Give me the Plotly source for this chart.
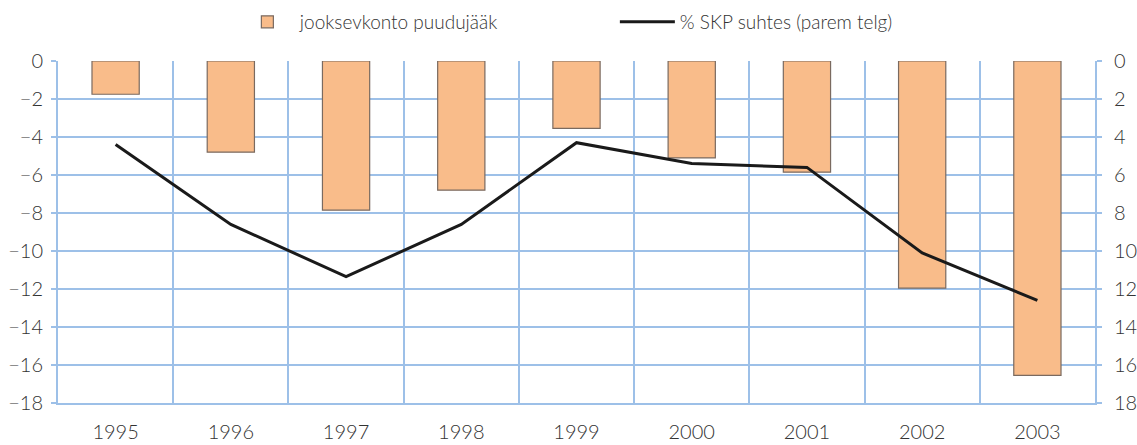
import plotly.graph_objects as go

years = ["1995", "1996", "1997", "1998", "1999", "2000", "2001", "2002", "2003"]
deficit = [-1.75, -4.8, -7.85, -6.8, -3.55, -5.1, -5.85, -11.95, -16.55]
pct_gdp = [4.4, 8.6, 11.35, 8.6, 4.3, 5.4, 5.6, 10.1, 12.6]

grid = "#9DC0E8"
font = dict(family="Lato, Open Sans, sans-serif", size=20, color="#333333", weight=300)

fig = go.Figure()
fig.add_trace(go.Bar(
    x=years, y=deficit, name="jooksevkonto puudujääk",
    marker=dict(color="#F9BC8A", line=dict(color="#7A6A60", width=1.2)),
    width=0.41,
))
fig.add_trace(go.Scatter(
    x=years, y=pct_gdp, name="% SKP suhtes (parem telg)",
    mode="lines", line=dict(color="#1A1A1A", width=3), yaxis="y2",
))

fig.update_layout(
    width=1137, height=445,
    margin=dict(l=58, r=42, t=61, b=42, autoexpand=False),
    plot_bgcolor="white", paper_bgcolor="white",
    font=font,
    showlegend=True,
    legend=dict(orientation="h", x=0.537, xanchor="center", y=1.114, yanchor="middle",
                font=dict(size=19, color="#333333", weight=300), itemwidth=55,
                entrywidth=310, traceorder="normal"),
    xaxis=dict(type="category", tickson="boundaries", showgrid=True, gridcolor=grid,
               gridwidth=2, showline=True, linecolor=grid, linewidth=2,
               ticks="", mirror=False, ticklabelstandoff=10),
    yaxis=dict(range=[-18, 0], dtick=2, showgrid=True, gridcolor=grid, gridwidth=2,
               zeroline=False, showline=True, linecolor=grid, linewidth=2,
               ticks="outside", ticklen=5, tickcolor=grid, tickwidth=2,
               ticklabelstandoff=4),
    yaxis2=dict(range=[18, 0], dtick=2, overlaying="y", side="right", showgrid=False,
                zeroline=False, showline=True, linecolor=grid, linewidth=2,
                ticks="outside", ticklen=5, tickcolor=grid, tickwidth=2,
                ticklabelstandoff=8),
)

fig.write_html("out.html", config={"displayModeBar": False},
               post_script="document.body.style.margin='0';")
